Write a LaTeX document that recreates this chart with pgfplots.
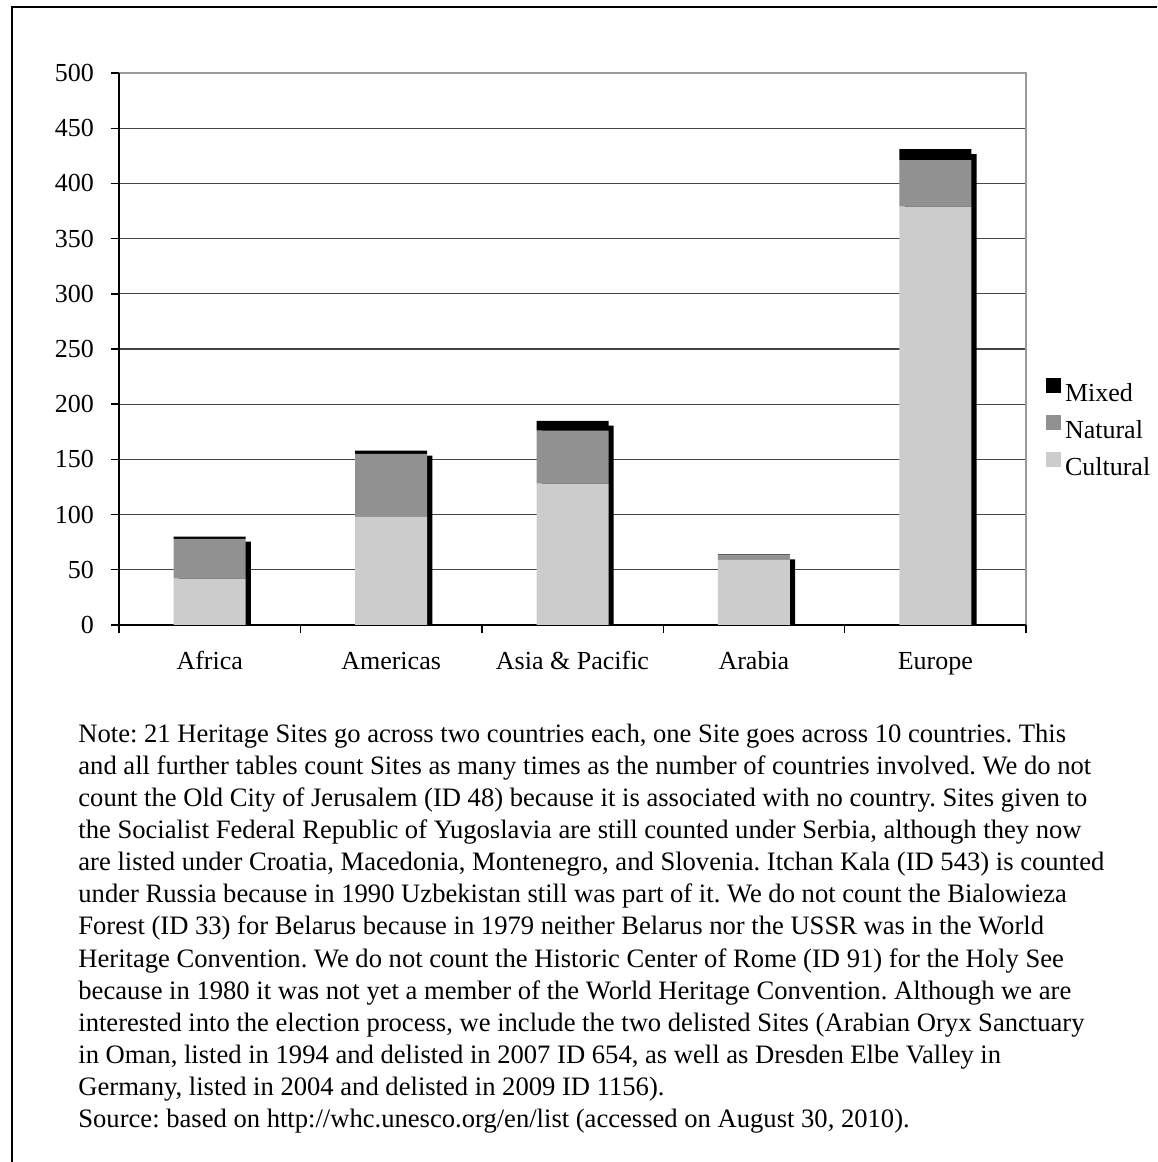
\documentclass[border=0pt]{standalone}
\usepackage{fontspec}
\setmainfont{Liberation Serif}
\usepackage{pgfplots}
\pgfplotsset{compat=1.18}
\usepackage{pgfplotstable}

\definecolor{cultural}{HTML}{CCCCCC}
\definecolor{natural}{HTML}{919191}
\definecolor{gridgray}{HTML}{444444}
\definecolor{boxgray}{HTML}{9A9A9A}

% Heritage sites per region: cultural, natural, mixed
\pgfplotstableread{
x region   c    n   m
0 Africa   42   36  2
1 Americas 98   57  3
2 Asia     128  48  9
3 Arabia   59   4   1
4 Europe   379  42  10
}\sites

\pgfplotsset{
  common/.style={
    at={(59.5pt,268.5pt)}, anchor=south west,
    scale only axis, width=453.5pt, height=276pt,
    xmin=-0.5, xmax=4.5, ymin=0, ymax=500,
    bar width=36pt,
  }
}

\begin{document}
\begin{tikzpicture}
\path[use as bounding box] (0,0) rectangle (578.5pt,581pt);
% page frame (top and left only)
\draw[black, line width=0.8pt] (6pt,0) -- (6pt,577.5pt) -- (578.5pt,577.5pt);

% back layer: grid, gray box and bar shadows
\begin{axis}[common,
  ybar, axis line style={boxgray, line width=0.7pt},
  ytick={50,100,...,450}, xtick=\empty,
  ymajorgrids, grid style={gridgray, line width=0.6pt},
  yticklabels={}, major tick length=0pt,
]
\addplot[fill=black, draw=none, bar shift=2.6pt]
  table[x=x, y expr=\thisrow{c}+\thisrow{n}+\thisrow{m}-4.5] {\sites};
\end{axis}

% front layer: stacked bars and black axes
\begin{axis}[common,
  ybar stacked,
  axis x line*=bottom, axis y line*=left,
  axis line style={black, line width=0.7pt, -},
  ytick={0,50,...,500},
  xtick={-0.5,0.5,...,4.5},
  x tick label as interval,
  xticklabels={Africa,Americas,Asia \& Pacific,Arabia,Europe},
  tick align=outside, major tick length=4pt,
  tick style={black, line width=0.7pt},
  /pgf/number format/assume math mode=true,
  ticklabel style={font=\fontsize{13}{15}\selectfont},
  yticklabel style={xshift=-5pt},
  xticklabel style={yshift=-7.5pt, text height=0.72em, text depth=0.22em},
  reverse legend,
  legend style={at={(1.015,0.455)}, anchor=north west, draw=none, fill=none,
    font=\fontsize{13}{15}\selectfont, row sep=3.5pt,
    /tikz/every even column/.append style={column sep=0pt}},
  legend cell align=left,
  legend image code/.code={\fill[#1] (0pt,0.3pt) rectangle (7.5pt,7.8pt);},
]
\addplot[fill=cultural, draw=none] table[x=x, y=c] {\sites};
\addplot[fill=natural, draw=none] table[x=x, y=n] {\sites};
\addplot[fill=black, draw=none] table[x=x, y=m] {\sites};
\legend{Cultural,Natural,Mixed}
\end{axis}

\node[anchor=base west, inner sep=0pt] at (39pt,209.8pt) {%
\parbox[t]{538pt}{\fontsize{13.3}{16.05}\selectfont\frenchspacing\raggedright
Note: 21 Heritage Sites go across two countries each, one Site goes across 10 countries. This\\
and all further tables count Sites as many times as the number of countries involved. We do not\\
count the Old City of Jerusalem (ID 48) because it is associated with no country. Sites given to\\
the Socialist Federal Republic of Yugoslavia are still counted under Serbia, although they now\\
are listed under Croatia, Macedonia, Montenegro, and Slovenia. Itchan Kala (ID 543) is counted\\
under Russia because in 1990 Uzbekistan still was part of it. We do not count the Bialowieza\\
Forest (ID 33) for Belarus because in 1979 neither Belarus nor the USSR was in the World\\
Heritage Convention. We do not count the Historic Center of Rome (ID 91) for the Holy See\\
because in 1980 it was not yet a member of the World Heritage Convention. Although we are\\
interested into the election process, we include the two delisted Sites (Arabian Oryx Sanctuary\\
in Oman, listed in 1994 and delisted in 2007 ID 654, as well as Dresden Elbe Valley in\\
Germany, listed in 2004 and delisted in 2009 ID 1156).\\
Source: based on http://whc.unesco.org/en/list (accessed on August 30, 2010).}};
\end{tikzpicture}
\end{document}
